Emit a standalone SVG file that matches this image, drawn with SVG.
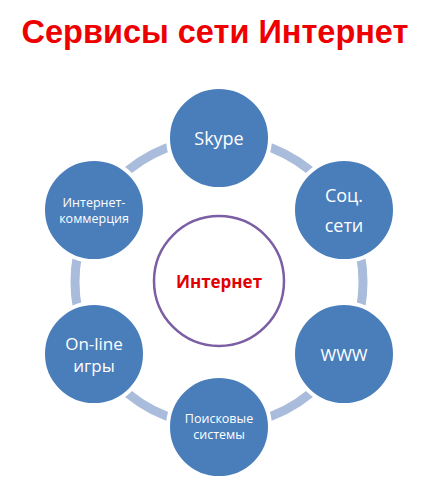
<svg xmlns="http://www.w3.org/2000/svg" width="443" height="482" viewBox="0 0 443 482">
<style>
.node{fill:#4a7ebb;stroke:#ffffff;stroke-width:4}
.t{font-family:"Open Sans","Liberation Sans",sans-serif;fill:#ffffff;text-anchor:middle}
.ring{fill:none;stroke:#a9bcdb;stroke-width:9}
</style>
<rect width="443" height="482" fill="#ffffff"/>
<text x="215" y="43" font-family="'Liberation Sans',Arial,sans-serif" font-weight="bold" font-size="32.5" fill="#ee0000" text-anchor="middle">Сервисы сети Интернет</text>
<g id="connectors">
<circle class="ring" cx="219" cy="282" r="144"/>
</g>
<g id="center">
<circle cx="219" cy="281" r="65" fill="#ffffff" stroke="#7b5ea3" stroke-width="2.5"/>
<text x="219" y="288" font-family="'Open Sans','Liberation Sans',sans-serif" font-weight="bold" font-size="17" fill="#e00000" text-anchor="middle">Интернет</text>
</g>
<g id="skype">
<circle class="node" cx="219" cy="138" r="51"/>
<text class="t" x="219" y="145" font-size="18">Skype</text>
</g>
<g id="soc">
<circle class="node" cx="344" cy="210" r="51"/>
<text class="t" x="344" y="202" font-size="18">Соц.</text>
<text class="t" x="344" y="232" font-size="18">сети</text>
</g>
<g id="www">
<circle class="node" cx="344" cy="354" r="51"/>
<text class="t" x="344" y="361" font-size="17">WWW</text>
</g>
<g id="search">
<circle class="node" cx="219" cy="427" r="51"/>
<text class="t" x="219" y="423" font-size="12.5">Поисковые</text>
<text class="t" x="219" y="439" font-size="12.5">системы</text>
</g>
<g id="games">
<circle class="node" cx="94" cy="354" r="51"/>
<text class="t" x="94" y="350" font-size="17">On-line</text>
<text class="t" x="94" y="372" font-size="17">игры</text>
</g>
<g id="commerce">
<circle class="node" cx="94" cy="210" r="51"/>
<text class="t" x="94" y="207" font-size="12.5">Интернет-</text>
<text class="t" x="94" y="223" font-size="12.5">коммерция</text>
</g>
</svg>
